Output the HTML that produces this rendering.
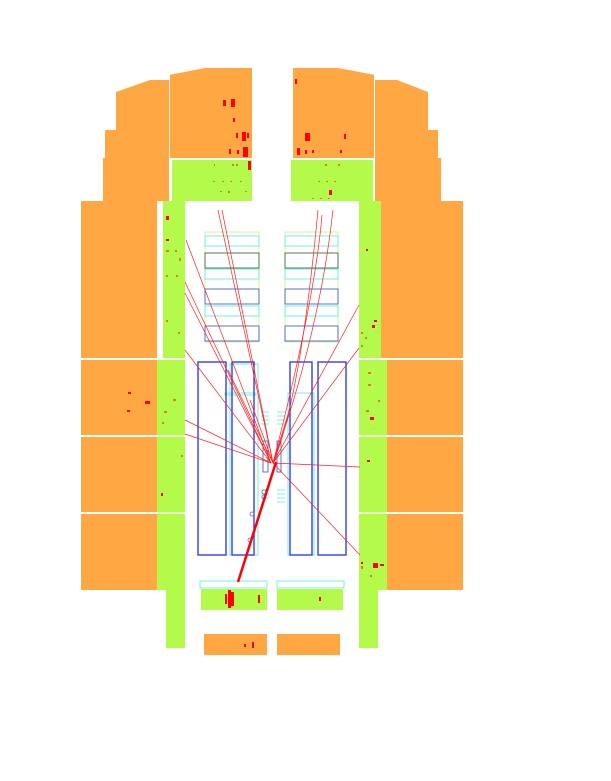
<!DOCTYPE html>
<html><head><style>body{margin:0;background:#fff}svg{display:block}</style></head><body>
<svg width="611" height="781" viewBox="0 0 611 781" xmlns="http://www.w3.org/2000/svg">
<g fill="#ffa843">
<polygon points="116,92 150,80 169,80 169,201 81,201 81,358 157,358 157,201 103,201 103,158 105,158 105,130 116,130"/>
<polygon points="169,75 205,68 252,68 252,158 169,158"/>
<polygon points="293,68 338,68 375,75 375,158 293,158"/>
<polygon points="375,80 397,80 428,92 428,130 438,130 438,158 441,158 441,201 375,201"/>
<rect x="381" y="201" width="82" height="157"/>
<rect x="81" y="360" width="76" height="75"/><rect x="81" y="437" width="76" height="75"/><rect x="81" y="514" width="76" height="76"/>
<rect x="387" y="360" width="76" height="75"/><rect x="387" y="437" width="76" height="75"/><rect x="387" y="514" width="76" height="76"/>
<rect x="204" y="634" width="63" height="21"/><rect x="277" y="634" width="63" height="21"/>
</g>
<g stroke="#fff" stroke-width="1"><line x1="169.5" y1="74" x2="169.5" y2="201"/><line x1="374.5" y1="74" x2="374.5" y2="201"/></g>
<g fill="#b4fa4a">
<rect x="172" y="160" width="80" height="41"/><rect x="291" y="160" width="82" height="41"/>
<rect x="163" y="201" width="22" height="157"/><rect x="359" y="201" width="22" height="157"/>
<rect x="157" y="360" width="28" height="230"/><rect x="359" y="360" width="28" height="230"/>
<rect x="166" y="590" width="19" height="58"/><rect x="359" y="590" width="19" height="58"/>
<rect x="201" y="589" width="66" height="21"/><rect x="277" y="589" width="66" height="21"/>
</g>
<g stroke="#fff" stroke-width="1.5"><line x1="157" y1="436" x2="185" y2="436"/><line x1="157" y1="513" x2="185" y2="513"/><line x1="359" y1="436" x2="387" y2="436"/><line x1="359" y1="513" x2="387" y2="513"/></g>
<g fill="#ff0000">
<rect x="223" y="100" width="3" height="6"/><rect x="231" y="99" width="4" height="8"/><rect x="233" y="118" width="2" height="4"/>
<rect x="236" y="133" width="2" height="5"/><rect x="242" y="132" width="4" height="9"/><rect x="247" y="133" width="2" height="5"/>
<rect x="229" y="149" width="2" height="5"/><rect x="243" y="147" width="5" height="10"/><rect x="237" y="150" width="2" height="4"/>
<rect x="248" y="161" width="3" height="9"/><rect x="295" y="79" width="2" height="5"/>
<rect x="305" y="133" width="5" height="8"/><rect x="344" y="134" width="2" height="5"/>
<rect x="297" y="148" width="3" height="7"/><rect x="305" y="150" width="2" height="4"/><rect x="312" y="150" width="2" height="3"/><rect x="340" y="150" width="2" height="3"/>
<rect x="329" y="190" width="3" height="5"/><rect x="166" y="216" width="3" height="4"/><rect x="166" y="239" width="3" height="2"/>
<rect x="366" y="249" width="2" height="2"/><rect x="374" y="320" width="3" height="2"/><rect x="372" y="325" width="3" height="3"/>
<rect x="145" y="401" width="5" height="3"/><rect x="128" y="392" width="3" height="2"/><rect x="127" y="410" width="3" height="2"/>
<rect x="370" y="417" width="4" height="3"/><rect x="367" y="460" width="3" height="2"/><rect x="161" y="493" width="2" height="3"/>
<rect x="373" y="563" width="5" height="5"/><rect x="380" y="564" width="4" height="2"/><rect x="361" y="562" width="2" height="2"/>
<rect x="228" y="590" width="3" height="18"/><rect x="231" y="592" width="3" height="14"/><rect x="225" y="594" width="2" height="10"/>
<rect x="258" y="595" width="2" height="8"/><rect x="319" y="597" width="2" height="4"/><rect x="252" y="642" width="2" height="6"/><rect x="244" y="644" width="2" height="3"/>
</g>
<g fill="#e05020" opacity="0.7">
<rect x="214" y="164" width="1" height="2"/><rect x="232" y="164" width="2" height="2"/><rect x="236" y="164" width="2" height="2"/>
<rect x="213" y="181" width="2" height="1"/><rect x="222" y="181" width="2" height="1"/><rect x="230" y="181" width="2" height="1"/><rect x="240" y="181" width="2" height="1"/>
<rect x="220" y="191" width="2" height="1"/><rect x="228" y="191" width="2" height="2"/><rect x="245" y="191" width="2" height="1"/>
<rect x="318" y="181" width="2" height="1"/><rect x="326" y="181" width="2" height="1"/><rect x="334" y="181" width="2" height="1"/><rect x="325" y="164" width="2" height="2"/><rect x="338" y="164" width="2" height="2"/>
<rect x="312" y="198" width="2" height="1"/><rect x="320" y="198" width="2" height="1"/><rect x="328" y="198" width="2" height="1"/>
<rect x="166" y="250" width="3" height="2"/><rect x="175" y="250" width="2" height="2"/><rect x="166" y="275" width="2" height="2"/><rect x="176" y="275" width="2" height="2"/>
<rect x="179" y="258" width="2" height="3"/><rect x="166" y="320" width="2" height="2"/><rect x="178" y="332" width="2" height="2"/>
<rect x="361" y="332" width="2" height="2"/><rect x="365" y="337" width="2" height="2"/><rect x="361" y="345" width="2" height="2"/>
<rect x="368" y="372" width="3" height="2"/><rect x="368" y="384" width="3" height="2"/><rect x="366" y="410" width="3" height="2"/><rect x="378" y="400" width="2" height="2"/>
<rect x="173" y="399" width="3" height="2"/><rect x="164" y="411" width="3" height="2"/><rect x="162" y="422" width="2" height="2"/><rect x="181" y="455" width="2" height="2"/>
<rect x="361" y="566" width="2" height="3"/><rect x="370" y="575" width="2" height="2"/>
</g>
<g fill="none" stroke-width="0.8">
<g stroke="#c8f080"><rect x="205" y="232" width="54" height="110"/><rect x="285" y="232" width="53" height="110"/></g>
<g stroke="#55ecd8"><rect x="205" y="236" width="54" height="10"/><rect x="205" y="269" width="54" height="10"/><rect x="205" y="306" width="54" height="10"/>
<rect x="285" y="236" width="53" height="10"/><rect x="285" y="269" width="53" height="10"/><rect x="285" y="306" width="53" height="10"/>
<rect x="230" y="364" width="28" height="191"/><rect x="288" y="393" width="26" height="162"/><rect x="225" y="393" width="31" height="2"/>
<rect x="200" y="581" width="67" height="7"/><rect x="277" y="581" width="67" height="7"/></g>
<g stroke="#3050c0"><rect x="205" y="253" width="54" height="15" stroke="#2a5a30"/><rect x="205" y="289" width="54" height="15"/><rect x="205" y="326" width="54" height="15"/>
<rect x="285" y="253" width="53" height="15" stroke="#2a5a30"/><rect x="285" y="289" width="53" height="15"/><rect x="285" y="326" width="53" height="15"/>
<rect x="263" y="441" width="5" height="31"/><rect x="277" y="441" width="4" height="31"/></g>
<g stroke="#2030f0" stroke-width="1.3"><rect x="198" y="362" width="28" height="193"/><rect x="232" y="362" width="22" height="193"/><rect x="290" y="362" width="22" height="193"/><rect x="318" y="362" width="28" height="193"/></g>
<g stroke="#55ecd8"><path d="M261 412h8M261 416h8M261 420h8M261 424h8M277 412h8M277 416h8M277 420h8M277 424h8M277 490h8M277 494h8M277 498h8M277 502h8M261 490h8M261 494h8M261 498h8"/></g>
<g stroke="#6060e0"><circle cx="264" cy="492" r="2"/><circle cx="264" cy="497" r="2"/><circle cx="252" cy="514" r="2"/><circle cx="250" cy="540" r="2"/></g>
</g>
<g stroke="#ff2020" stroke-width="0.7" fill="none">
<line x1="273" y1="463" x2="218" y2="210"/><line x1="273" y1="463" x2="222" y2="210"/><line x1="271" y1="463" x2="186" y2="240"/>
<line x1="271" y1="463" x2="185" y2="282"/><line x1="271" y1="463" x2="185" y2="293"/><line x1="271" y1="463" x2="185" y2="350"/>
<line x1="271" y1="463" x2="185" y2="420"/><line x1="271" y1="463" x2="185" y2="434"/><line x1="273" y1="463" x2="228" y2="370"/>
<path d="M273 463 Q300 400 318 210"/><path d="M273 463 Q320 330 333 210"/><path d="M273 463 Q315 300 322 215"/>
<line x1="273" y1="463" x2="359" y2="305"/><line x1="273" y1="463" x2="359" y2="348"/><line x1="273" y1="463" x2="360" y2="467"/>
<line x1="273" y1="463" x2="360" y2="555"/><line x1="273" y1="463" x2="250" y2="400"/><line x1="273" y1="463" x2="290" y2="408"/>
</g>
<line x1="276" y1="462" x2="238" y2="582" stroke="#ff0000" stroke-width="2.5"/>
</svg>
</body></html>
